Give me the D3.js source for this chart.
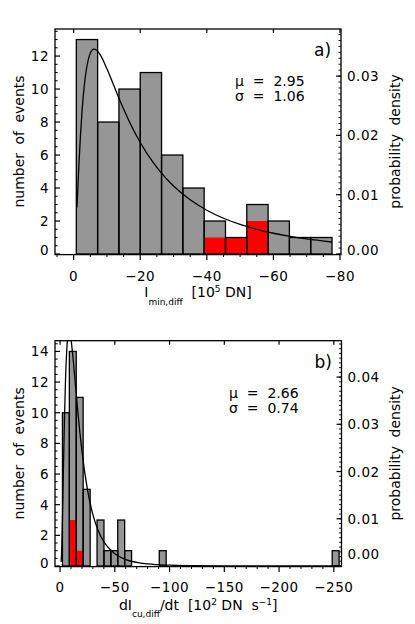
<!DOCTYPE html>
<html>
<head>
<meta charset="utf-8">
<script src="https://cdn.jsdelivr.net/npm/d3@7"></script>
<style>
  html, body { margin: 0; padding: 0; background: #fff; }
  svg { display: block; }
  text { font-family: "DejaVu Sans", sans-serif; fill: #000; }
</style>
</head>
<body>
<svg id="chart" width="415" height="624"></svg>
<script>
// ---------- Panel a data ----------
const aBinLo   = [-0.8, -7.2, -13.6, -20.0, -26.4, -32.8, -39.2, -45.6, -52.0, -58.4, -64.8, -71.2];
const aBinHi   = [-7.2, -13.6, -20.0, -26.4, -32.8, -39.2, -45.6, -52.0, -58.4, -64.8, -71.2, -77.6];
const aCounts  = [13, 8, 10, 11, 6, 4, 2, 1, 3, 2, 1, 1];
const aRed     = [0, 0, 0, 0, 0, 0, 1, 1, 2, 0, 0, 0];
const aCurveX  = [-1, -1.25, -1.5, -2, -2.5, -3, -3.5, -4, -4.5, -5, -6, -7, -8, -10, -12, -15, -18, -22, -26, -30, -35, -40, -45, -50, -55, -60, -65, -70, -77.6];
const aCurveY  = [0.00783, 0.01101, 0.01407, 0.01951, 0.02390, 0.02729, 0.02984, 0.03170, 0.03299, 0.03383, 0.03453, 0.03433, 0.03358, 0.03123, 0.02849, 0.02445, 0.02088, 0.01696, 0.01388, 0.01146, 0.00914, 0.00738, 0.00603, 0.00499, 0.00416, 0.00350, 0.00297, 0.00254, 0.00202];
const aXMajor  = [0, -20, -40, -60, -80];
const aXLabels = ["0", "\u221220", "\u221240", "\u221260", "\u221280"];
const aXMinor  = [5, -5, -10, -15, -25, -30, -35, -45, -50, -55, -65, -70, -75];
const aYMajor  = [0, 2, 4, 6, 8, 10, 12];
const aDMajor  = [0, 0.01, 0.02, 0.03];
const aDLabels = ["0.00", "0.01", "0.02", "0.03"];
const aStats   = ["\u03bc  =  2.95", "\u03c3  =  1.06"];

// ---------- Panel b data ----------
const bBinLo   = [-2.2, -8.5, -14.8, -21.1, -33.8, -40.1, -46.4, -52.7, -59.0, -90.6, -248.5];
const bBinHi   = [-8.5, -14.8, -21.1, -27.5, -40.1, -46.4, -52.7, -59.0, -65.3, -96.9, -254.8];
const bCounts  = [10, 14, 11, 5, 3, 1, 1, 3, 1, 1, 1];
const bRed     = [0, 3, 1, 0, 0, 0, 0, 0, 0, 0, 0];
const bCurveX  = [-1, -1.5, -2, -2.5, -3, -4, -5, -6, -7, -8, -9, -10, -12, -14, -16, -18, -20, -25, -30, -35, -40, -50, -60, -70, -80, -100, -120, -150, -200, -254.8];
const bCurveY  = [0.00084, 0.00347, 0.00788, 0.01343, 0.01940, 0.03065, 0.03936, 0.04515, 0.04835, 0.04954, 0.04926, 0.04798, 0.04369, 0.03849, 0.03331, 0.02853, 0.02432, 0.01621, 0.01088, 0.00741, 0.00513, 0.00258, 0.00137, 0.00077, 0.00045, 0.00017, 0.00007, 0.00002, 0.000003, 0.0000005];
const bXMajor  = [0, -50, -100, -150, -200, -250];
const bXLabels = ["0", "\u221250", "\u2212100", "\u2212150", "\u2212200", "\u2212250"];
const bXMinor  = [-10, -20, -30, -40, -60, -70, -80, -90, -110, -120, -130, -140, -160, -170, -180, -190, -210, -220, -230, -240];
const bYMajor  = [0, 2, 4, 6, 8, 10, 12, 14];
const bDMajor  = [0, 0.01, 0.02, 0.03, 0.04];
const bDLabels = ["0.00", "0.01", "0.02", "0.03", "0.04"];
const bStats   = ["\u03bc  =  2.66", "\u03c3  =  0.74"];

const svg = d3.select("#chart");
const GRAY = "#969696", RED = "#ff0000";

function panel(o) {
  const g = svg.append("g");
  const x = d3.scaleLinear().domain(o.xDomain).range([o.left, o.right]);
  const y = d3.scaleLinear().domain(o.yDomain).range([o.bottom, o.top]);
  const yd = d3.scaleLinear().domain(o.dDomain).range([o.bottom, o.top]);

  const clipId = "clip" + o.id;
  svg.append("clipPath").attr("id", clipId).append("rect")
    .attr("x", o.left).attr("y", o.top)
    .attr("width", o.right - o.left).attr("height", o.bottom - o.top);

  const bars = o.lo.map((lo, i) => ({lo, hi: o.hi[i], c: o.counts[i], r: o.red[i]}));
  g.selectAll(".bg").data(bars).join("rect")
    .attr("x", d => x(d.lo)).attr("width", d => x(d.hi) - x(d.lo))
    .attr("y", d => y(d.c)).attr("height", d => y(0) - y(d.c))
    .attr("fill", GRAY);
  g.selectAll(".br").data(bars.filter(d => d.r > 0)).join("rect")
    .attr("x", d => x(d.lo)).attr("width", d => x(d.hi) - x(d.lo))
    .attr("y", d => y(d.r)).attr("height", d => y(0) - y(d.r))
    .attr("fill", RED);
  g.selectAll(".bo").data(bars).join("rect")
    .attr("x", d => x(d.lo)).attr("width", d => x(d.hi) - x(d.lo))
    .attr("y", d => y(d.c)).attr("height", d => y(0) - y(d.c))
    .attr("fill", "none").attr("stroke", "#000").attr("stroke-width", 1.3);

  const pts = o.cx.map((v, i) => [v, o.cy[i]]);
  g.append("path").datum(pts)
    .attr("clip-path", `url(#${clipId})`)
    .attr("d", d3.line().x(d => x(d[0])).y(d => yd(d[1])).curve(d3.curveMonotoneX))
    .attr("fill", "none").attr("stroke", "#000").attr("stroke-width", 1.3);

  g.append("rect").attr("x", o.left).attr("y", o.top)
    .attr("width", o.right - o.left).attr("height", o.bottom + 0.6 - o.top)
    .attr("fill", "none").attr("stroke", "#000").attr("stroke-width", 1.3);

  const axisLine = (x1, y1, x2, y2, w) => g.append("line")
    .attr("x1", x1).attr("y1", y1).attr("x2", x2).attr("y2", y2)
    .attr("stroke", "#000").attr("stroke-width", w || 1);

  o.xMajor.forEach(v => { axisLine(x(v), o.bottom, x(v), o.bottom + 6, 1.2); axisLine(x(v), o.top, x(v), o.top + 4, 1.2); });
  o.xMinor.forEach(v => { axisLine(x(v), o.bottom, x(v), o.bottom + 3, 1); });
  o.yMajor.forEach(v => axisLine(o.left, y(v), o.left + 5, y(v), 1.2));
  d3.range(0, o.yDomain[1], 0.5).forEach(v => { if (v % 2 !== 0) axisLine(o.left, y(v), o.left + 2.7, y(v), 1); });
  o.dMajor.forEach(v => axisLine(o.right, yd(v), o.right - 5, yd(v), 1.2));
  d3.range(0, o.dDomain[1], 0.001).forEach(v => axisLine(o.right, yd(v), o.right - 2.5, yd(v), 0.9));

  const fs = 13.5;
  g.selectAll(".xl").data(o.xMajor).join("text")
    .attr("x", v => x(v)).attr("y", o.bottom + o.tickDy)
    .attr("text-anchor", "middle").attr("font-size", fs).attr("letter-spacing", 0.5)
    .text((v, i) => o.xLabels[i]);
  g.selectAll(".yl").data(o.yMajor).join("text")
    .attr("x", o.left - 6).attr("y", (v, i) => y(v) + 5 + (i === 0 ? o.zeroShiftL : 0))
    .attr("text-anchor", "end").attr("font-size", fs).attr("letter-spacing", 0.5)
    .text(v => v);
  g.selectAll(".dl").data(o.dMajor).join("text")
    .attr("x", o.right + 6).attr("y", (v, i) => yd(v) + 5 + (i === 0 ? o.zeroShiftR : 0))
    .attr("text-anchor", "start").attr("font-size", fs).attr("letter-spacing", 0.5)
    .text((v, i) => o.dLabels[i]);

  const mid = (o.top + o.bottom) / 2;
  g.append("text").attr("transform", `translate(24,${mid}) rotate(-90)`)
    .attr("text-anchor", "middle").attr("font-size", 14).attr("word-spacing", 4)
    .text("number of events");
  g.append("text").attr("transform", `translate(400,${mid}) rotate(-90)`)
    .attr("text-anchor", "middle").attr("font-size", 14).attr("word-spacing", 4)
    .text("probability density");

  g.append("text").attr("x", o.right - 27).attr("y", o.top + 27)
    .attr("font-size", 17).text(o.letter);
  o.stats.forEach((s, i) => g.append("text")
    .attr("x", o.statX).attr("y", o.statY + i * 15)
    .attr("font-size", 14).attr("xml:space", "preserve").style("white-space", "pre")
    .text(s));

  const t = g.append("text").attr("x", (o.left + o.right) / 2).attr("y", o.bottom + o.titleDy)
    .attr("text-anchor", "middle").attr("font-size", 14).attr("xml:space", "preserve").style("white-space", "pre");
  o.title.forEach(part => {
    const ts = t.append("tspan").text(part.t);
    if (part.dy) ts.attr("dy", part.dy);
    if (part.fs) ts.attr("font-size", part.fs);
  });
}

panel({
  id: "a", left: 55, right: 341, top: 29, bottom: 254,
  xDomain: [5.6, -80.3], yDomain: [0, 13.64], dDomain: [0, 0.03794],
  lo: aBinLo, hi: aBinHi, counts: aCounts, red: aRed, cx: aCurveX, cy: aCurveY,
  xMajor: aXMajor, xLabels: aXLabels, xMinor: aXMinor, yMajor: aYMajor,
  dMajor: aDMajor, dLabels: aDLabels, zeroShiftL: -4.5, zeroShiftR: -4.5,
  letter: "a)", stats: aStats, statX: 235, statY: 86, tickDy: 27, titleDy: 42.5,
  title: [{t: "I"}, {t: "min,diff", fs: 9, dy: 8}, {t: "  [10", dy: -8}, {t: "5", fs: 9, dy: -5}, {t: " DN]", dy: 5}]
});

panel({
  id: "b", left: 55, right: 341.5, top: 340.7, bottom: 566,
  xDomain: [4.6, -257], yDomain: [0, 14.7], dDomain: [0, 0.0477],
  lo: bBinLo, hi: bBinHi, counts: bCounts, red: bRed, cx: bCurveX, cy: bCurveY,
  xMajor: bXMajor, xLabels: bXLabels, xMinor: bXMinor, yMajor: bYMajor,
  dMajor: bDMajor, dLabels: bDLabels, zeroShiftL: -3, zeroShiftR: -12.5,
  letter: "b)", stats: bStats, statX: 229, statY: 397.5, tickDy: 26, titleDy: 43.5,
  title: [{t: "dI"}, {t: "cu,diff", fs: 9, dy: 7}, {t: "/dt  [10", dy: -7}, {t: "2", fs: 9, dy: -5}, {t: " DN  s", dy: 5}, {t: "\u22121", fs: 9, dy: -5}, {t: "]", dy: 5}]
});
</script>
</body>
</html>
